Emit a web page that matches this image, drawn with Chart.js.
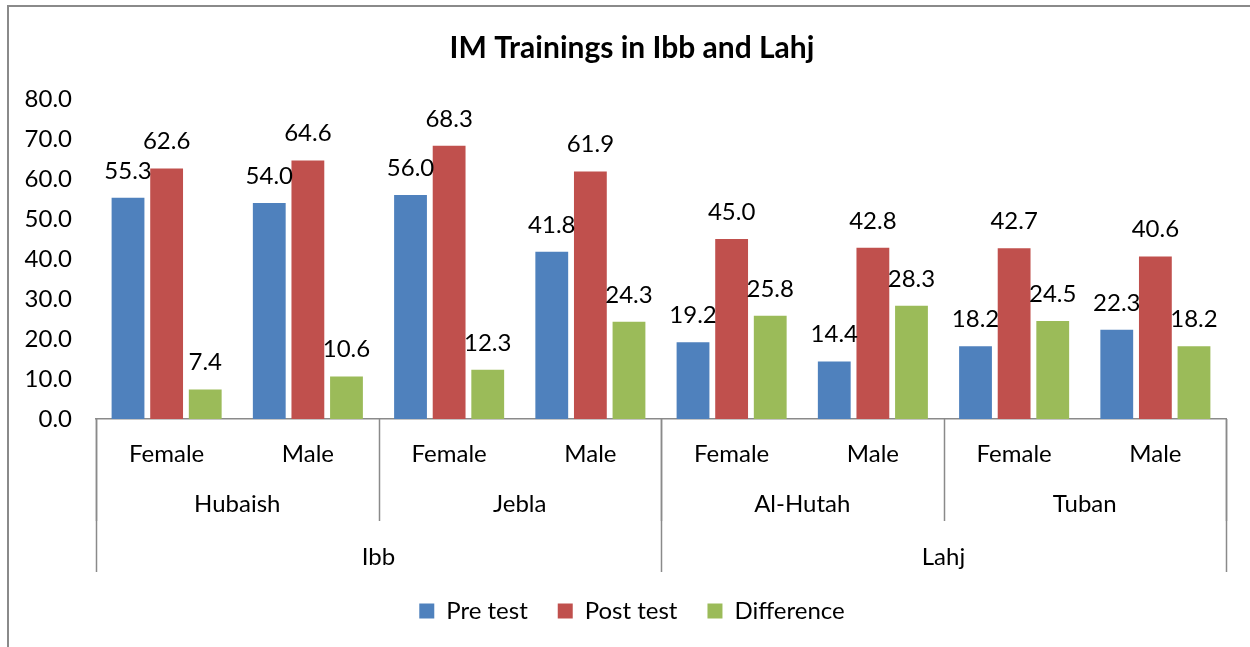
<!DOCTYPE html>
<html lang="en">
<head>
  <meta charset="UTF-8">
  <title>IM Trainings in Ibb and Lahj</title>
  <script src="https://cdn.jsdelivr.net/npm/chart.js"></script>
  <style>
    html, body { margin: 0; padding: 0; background: #fff; overflow: hidden; }
    #frame {
      position: absolute; left: 7px; top: 5px; width: 1300px; height: 700px;
      border: 2px solid #8a8a8a; box-sizing: border-box;
    }
    #usageChart { position: absolute; left: 0; top: 0; }
  </style>
</head>
<body>
  <div id="frame"></div>
  <canvas id="usageChart" width="1250" height="647"></canvas>

  <script>
    // categories (three levels, innermost first)
    const sexes = ['Female', 'Male', 'Female', 'Male', 'Female', 'Male', 'Female', 'Male'];
    const districts = ['Hubaish', 'Jebla', 'Al-Hutah', 'Tuban'];
    const governorates = ['Ibb', 'Lahj'];

    // series values
    const preTest = [55.3, 54.0, 56.0, 41.8, 19.2, 14.4, 18.2, 22.3];
    const postTest = [62.6, 64.6, 68.3, 61.9, 45.0, 42.8, 42.7, 40.6];
    const difference = [7.4, 10.6, 12.3, 24.3, 25.8, 28.3, 24.5, 18.2];

    // y tick labels
    const yTicks = ['0.0', '10.0', '20.0', '30.0', '40.0', '50.0', '60.0', '70.0', '80.0'];

    const FONT = 'Lato, "Liberation Sans", sans-serif';
    const AXIS_GREY = '#8a8a8a';

    // value labels above each bar
    const barLabels = {
      id: 'barLabels',
      afterDatasetsDraw(chart) {
        const ctx = chart.ctx;
        ctx.save();
        ctx.font = '24px ' + FONT;
        ctx.fillStyle = '#000';
        ctx.textAlign = 'center';
        ctx.textBaseline = 'middle';
        chart.data.datasets.forEach((ds, di) => {
          chart.getDatasetMeta(di).data.forEach((bar, i) => {
            ctx.fillText(ds.data[i].toFixed(1), bar.x, bar.y - 27);
          });
        });
        ctx.restore();
      }
    };

    // multi-level category axis under the plot
    const groupAxis = {
      id: 'groupAxis',
      afterDraw(chart) {
        const ctx = chart.ctx;
        const x = chart.scales.x;
        const top = chart.chartArea.bottom;
        const n = sexes.length;
        const step = x.getPixelForValue(1) - x.getPixelForValue(0);
        const edge = i => x.getPixelForValue(0) - step / 2 + step * i;

        ctx.save();
        ctx.strokeStyle = AXIS_GREY;
        ctx.lineWidth = 1.5;
        ctx.font = '24px ' + FONT;
        ctx.fillStyle = '#000';
        ctx.textAlign = 'center';
        ctx.textBaseline = 'middle';

        // innermost labels
        sexes.forEach((s, i) => ctx.fillText(s, x.getPixelForValue(i), top + 35));

        // districts
        const perDistrict = n / districts.length;
        districts.forEach((d, k) => {
          const l = edge(k * perDistrict), r = edge((k + 1) * perDistrict);
          ctx.fillText(d, (l + r) / 2, top + 85);
        });
        for (let k = 0; k <= districts.length; k++) {
          const px = Math.round(edge(k * perDistrict)) + 0.5;
          ctx.beginPath();
          ctx.moveTo(px, top);
          ctx.lineTo(px, top + 102);
          ctx.stroke();
        }

        // governorates
        const perGov = n / governorates.length;
        governorates.forEach((g, k) => {
          const l = edge(k * perGov), r = edge((k + 1) * perGov);
          ctx.fillText(g, (l + r) / 2, top + 138);
        });
        for (let k = 0; k <= governorates.length; k++) {
          const px = Math.round(edge(k * perGov)) + 0.5;
          ctx.beginPath();
          ctx.moveTo(px, top);
          ctx.lineTo(px, top + 153);
          ctx.stroke();
        }
        ctx.restore();
      }
    };

    const ctx = document.getElementById('usageChart').getContext('2d');
    const usageChart = new Chart(ctx, {
      type: 'bar',
      data: {
        labels: sexes,
        datasets: [
          { label: 'Pre test', data: preTest, backgroundColor: '#4F81BD' },
          { label: 'Post test', data: postTest, backgroundColor: '#C0504D' },
          { label: 'Difference', data: difference, backgroundColor: '#9BBB59' }
        ]
      },
      options: {
        responsive: false,
        animation: false,
        categoryPercentage: 0.82,
        barPercentage: 0.85,
        layout: { padding: { left: 14, right: 0, top: 0, bottom: 14 } },
        plugins: {
          tooltip: { enabled: false },
          title: {
            display: true,
            text: 'IM Trainings in Ibb and Lahj',
            color: '#000',
            font: { family: FONT, size: 30, weight: 'bold' },
            padding: { top: 30, bottom: 33 }
          },
          legend: {
            position: 'bottom',
            labels: {
              color: '#000',
              font: { family: FONT, size: 24 },
              boxWidth: 15,
              boxHeight: 15,
              padding: 30
            }
          }
        },
        scales: {
          x: {
            grid: { display: false },
            border: { display: true, color: AXIS_GREY, width: 1.5 },
            ticks: { display: false },
            afterFit(scale) { scale.height = 150; }
          },
          y: {
            min: 0,
            max: 80,
            grid: { display: false, drawTicks: false },
            border: { display: false },
            ticks: {
              stepSize: 10,
              padding: 24,
              color: '#000',
              font: { family: FONT, size: 24 },
              callback: (v, i) => yTicks[i]
            },
            afterFit(scale) { scale.width = 82; }
          },
          // empty right-hand margin, no marks
          yRight: {
            type: 'linear',
            position: 'right',
            grid: { display: false, drawTicks: false },
            border: { display: false },
            ticks: { display: false },
            afterFit(scale) { scale.width = 24; }
          }
        }
      },
      plugins: [barLabels, groupAxis]
    });
  </script>
</body>
</html>
